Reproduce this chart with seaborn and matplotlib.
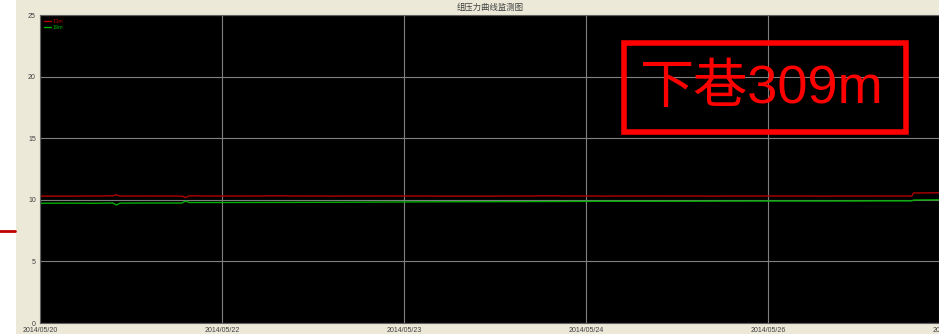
import pandas as pd
import matplotlib.pyplot as plt
import seaborn as sns
from matplotlib.patches import Rectangle
from matplotlib.lines import Line2D

# Data (x in day-tick units, 0 = 2014/05/20)
tick_labels = ["2014/05/20", "2014/05/22", "2014/05/23", "2014/05/24", "2014/05/26"]
series_names = ["13m", "19m"]

red_t = [0.0, 0.20, 0.40, 0.42, 0.44, 0.60, 0.78, 0.80, 0.82, 1.0, 1.3, 1.6, 1.9,
         2.2, 2.5, 2.8, 3.1, 3.4, 3.7, 4.0, 4.3, 4.6, 4.79, 4.80, 4.94]
red_v = [10.30, 10.30, 10.32, 10.40, 10.30, 10.31, 10.30, 10.18, 10.32, 10.30, 10.32, 10.30, 10.31,
         10.30, 10.30, 10.32, 10.30, 10.31, 10.30, 10.31, 10.30, 10.31, 10.30, 10.55, 10.57]

green_t = [0.0, 0.15, 0.30, 0.40, 0.42, 0.44, 0.60, 0.78, 0.80, 0.82, 1.0, 1.3, 1.6,
           1.9, 2.2, 2.5, 2.8, 3.1, 3.4, 3.7, 4.0, 4.3, 4.6, 4.79, 4.80, 4.94]
green_v = [9.72, 9.73, 9.72, 9.74, 9.58, 9.73, 9.74, 9.74, 9.90, 9.78, 9.78, 9.79, 9.80,
           9.82, 9.84, 9.85, 9.86, 9.88, 9.88, 9.89, 9.90, 9.90, 9.91, 9.91, 9.98, 10.00]

df = pd.concat([
    pd.DataFrame({"t": red_t, "value": red_v, "sensor": series_names[0]}),
    pd.DataFrame({"t": green_t, "value": green_v, "sensor": series_names[1]}),
])

sns.set_theme(style="dark")
plt.rcParams["font.family"] = ["Liberation Sans", "Noto Sans CJK SC", "DejaVu Sans"]

fig = plt.figure(figsize=(9.39, 3.34), dpi=100, facecolor="white")
# beige window panel and the slide decoration on the far left
fig.patches.append(Rectangle((16 / 939, 0), 1, 1, transform=fig.transFigure,
                             facecolor="#ECE9D8", edgecolor="none", zorder=-1))
fig.lines.append(Line2D([0, 15 / 939], [1 - 231 / 334] * 2, transform=fig.transFigure,
                        color="#C00000", linewidth=2))

ax = fig.add_axes([40 / 939, 11 / 334, 899 / 939, 308 / 334])
ax.set_zorder(2)
ax.set_facecolor("black")

sns.lineplot(data=df, x="t", y="value", hue="sensor",
             palette={"13m": "#B00000", "19m": "#00B000"},
             linewidth=1.0, ax=ax)

ax.set_xlim(0, 4.94)
ax.set_ylim(0, 25)
ax.set_xticks(range(len(tick_labels)))
ax.set_xticklabels(tick_labels)
ax.set_yticks([0, 5, 10, 15, 20, 25])
ax.tick_params(axis="both", labelsize=5, colors="#404040", length=0, pad=3)
ax.set_xlabel("")
ax.set_ylabel("")
ax.grid(True, color="#808080", linewidth=0.8)
for s in ax.spines.values():
    s.set_color("#606060")
    s.set_linewidth(0.8)

# cut-off last date label at right edge
ax.text(5, -0.013, "2014/05/27", transform=ax.get_xaxis_transform(), ha="center",
        va="top", fontsize=5, color="#404040", clip_on=False)

leg = ax.legend(loc="upper left", fontsize=4, frameon=False, handlelength=1.2,
                handletextpad=0.3, labelspacing=0.2, borderaxespad=0.3)
for txt, line in zip(leg.get_texts(), leg.get_lines()):
    txt.set_color(line.get_color())

fig.text(490 / 939, 1 - 7 / 334, "组压力曲线监测图", ha="center", va="center",
         fontsize=6, color="#404040", family=["Noto Sans CJK SC", "DejaVu Sans"])

# red annotation box
ax.add_patch(Rectangle((624 / 939, 1 - 132 / 334), 282 / 939, 89 / 334,
                       transform=fig.transFigure, fill=False, edgecolor="#FF0000",
                       linewidth=4, zorder=5, clip_on=False))
ax.text(761 / 939, 1 - 89 / 334, "下巷309m", ha="center", va="center",
        transform=fig.transFigure, fontsize=39, color="#FF0000", zorder=6,
        family=["Liberation Sans", "Noto Sans CJK SC"])

fig.savefig("out.png", dpi=100, facecolor=fig.get_facecolor())
